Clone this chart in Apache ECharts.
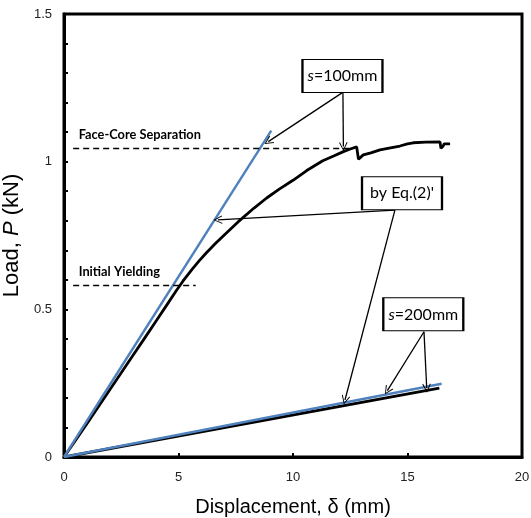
<!DOCTYPE html>
<html>
<head>
<meta charset="utf-8">
<script src="https://cdn.jsdelivr.net/npm/echarts@6/dist/echarts.min.js"></script>
<style>html,body{margin:0;padding:0;background:#fff}#c{width:531px;height:518px}</style>
</head>
<body>
<div id="c"></div>
<script>
// ---- data ----
var test100 = [[0,0],[0.5,0.056],[1,0.113],[1.5,0.17],[2,0.228],[2.5,0.285],[3,0.343],[3.5,0.4],[4,0.458],[4.5,0.516],[4.9,0.563],[5.2,0.596],[5.6,0.636],[5.9,0.664],[6.2,0.69],[6.6,0.722],[7.0,0.752],[7.6,0.796],[8.3,0.843],[8.85,0.877],[9.4,0.907],[10.0,0.937],[10.6,0.97],[11.3,1.003],[11.8,1.02],[12.2,1.034],[12.5,1.043],[12.78,1.05],[12.86,1.008],[13.07,1.023],[13.4,1.03],[13.8,1.04],[14.2,1.046],[14.67,1.053],[15.0,1.06],[15.25,1.064],[15.8,1.066],[16.42,1.067],[16.46,1.045],[16.55,1.052],[16.6,1.06],[16.86,1.06]];
var eq100 = [[0,0],[9.05,1.105]];
var test200 = [[0,0],[16.39,0.233]];
var eq200 = [[0,0],[16.49,0.248]];
var xTicks = [0,5,10,15,20];
var yTicks = [0,0.5,1,1.5];
var faceCoreY = 1.045, yieldY = 0.58;

var chart = echarts.init(document.getElementById('c'));
var arrowPath = 'path://M0,0 L5,10 L4,10.6 L0,2.2 L-4,10.6 L-5,10 Z';
function arrow(a, b){ return [{coord:a, symbol:'none'}, {coord:b, symbol:arrowPath, symbolSize:[9,9]}]; }
function box(text, c){
  return {coord:c, symbol:'rect', symbolSize:[80,33],
    itemStyle:{color:'#fff', borderColor:'#000', borderWidth:1.5},
    label:{show:true, position:'inside', formatter:text, color:'#000', fontFamily:'Lato', fontSize:16,
      rich:{i:{fontStyle:'italic', fontFamily:'Lato', fontSize:16, color:'#000'}}}};
}
function note(text, c){
  return {coord:c, symbol:'rect', symbolSize:[1,1], itemStyle:{color:'rgba(0,0,0,0)', borderWidth:0},
    label:{show:true, position:'right', distance:0, formatter:text, color:'#000', fontFamily:'Lato', fontWeight:'bold', fontSize:12.8}};
}
var option = {
  animation:false,
  grid:{left:64, right:9, top:14, bottom:61, outerBoundsMode:'none', containLabel:false,
        show:true, borderColor:'#000', borderWidth:3, backgroundColor:'#fff'},
  xAxis:{type:'value', min:0, max:20, interval:5,
    name:'Displacement, \u03b4 (mm)', nameLocation:'middle', nameGap:40,
    nameTextStyle:{fontFamily:'Liberation Sans', fontSize:20, color:'#000'},
    axisLine:{show:true, onZero:false, lineStyle:{color:'#000', width:3}},
    axisTick:{show:true, inside:true, length:4, lineStyle:{color:'#000', width:2}},
    axisLabel:{fontFamily:'Liberation Sans', fontSize:13, color:'#222', margin:14,
      formatter:function(v){return xTicks.indexOf(v)>=0 ? String(v) : '';}},
    splitLine:{show:false}},
  yAxis:{type:'value', min:0, max:1.5, interval:0.5,
    name:'Load, {i|P} (kN)', nameLocation:'middle', nameGap:32, nameRotate:90,
    nameTextStyle:{fontFamily:'Liberation Sans', fontSize:22, color:'#000',
      rich:{i:{fontStyle:'italic', fontFamily:'Liberation Sans', fontSize:22, color:'#000'}}},
    axisLine:{show:true, lineStyle:{color:'#000', width:3}},
    axisTick:{show:true, inside:true, length:4, lineStyle:{color:'#000', width:2}},
    minorTick:{show:true, splitNumber:5, length:4, lineStyle:{color:'#000', width:2}},
    axisLabel:{fontFamily:'Liberation Sans', fontSize:13, color:'#222', margin:12,
      formatter:function(v){return yTicks.indexOf(v)>=0 ? String(v) : '';}},
    splitLine:{show:false}},
  series:[
    {type:'line', data:test100, showSymbol:false, lineStyle:{color:'#000', width:2.8}, z:2,
     markLine:{silent:true, symbol:['none','none'], label:{show:false},
       lineStyle:{color:'#000', width:1.4, type:[6,4]},
       data:[[{coord:[0.4,faceCoreY]},{coord:[12.5,faceCoreY]}],[{coord:[0.4,yieldY]},{coord:[5.75,yieldY]}]]}},
    {type:'line', data:test200, showSymbol:false, lineStyle:{color:'#000', width:2.8}, z:2},
    {type:'line', data:eq100, showSymbol:false, lineStyle:{color:'#4F81BD', width:2.4}, z:3},
    {type:'line', data:eq200, showSymbol:false, lineStyle:{color:'#4F81BD', width:2.4}, z:3,
     markLine:{silent:true, label:{show:false}, symbolKeepAspect:true,
       lineStyle:{color:'#000', width:1.3, type:'solid'},
       data:[arrow([12.14,1.233],[8.92,1.068]), arrow([12.18,1.233],[12.2,1.051]),
             arrow([14.45,0.836],[6.72,0.803]), arrow([14.45,0.836],[12.27,0.193]),
             arrow([15.72,0.424],[14.12,0.225]), arrow([15.72,0.424],[15.84,0.233])]},
     markPoint:{silent:true, z:10,
       data:[box('{i|s}=100mm',[12.16,1.29]), box("by Eq.(2)'",[14.76,0.893]), box('{i|s}=200mm',[15.69,0.483]),
             note('Face-Core Separation',[0.62,1.09]), note('Initial Yielding',[0.62,0.627])]}}
  ]
};
chart.setOption(option);
</script>
</body>
</html>
